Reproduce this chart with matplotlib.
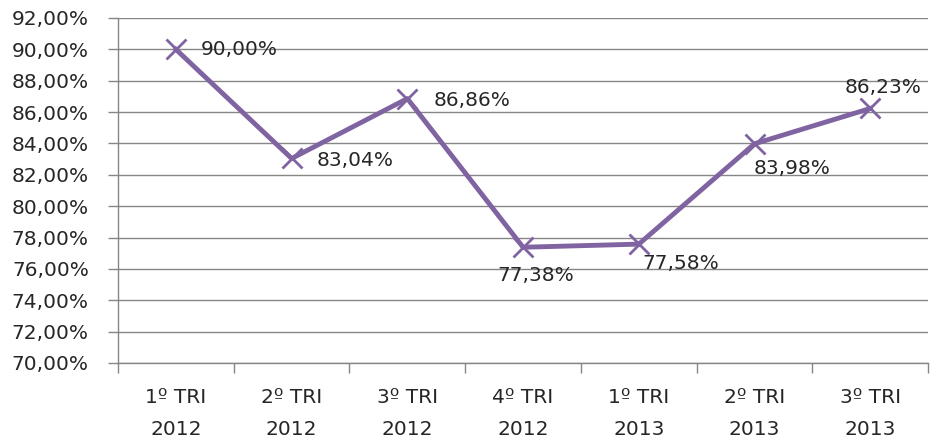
import matplotlib
matplotlib.use("Agg")
import matplotlib.pyplot as plt
from matplotlib.ticker import FuncFormatter, MultipleLocator

categories = ["1º TRI\n2012", "2º TRI\n2012", "3º TRI\n2012", "4º TRI\n2012",
              "1º TRI\n2013", "2º TRI\n2013", "3º TRI\n2013"]
values = [90.00, 83.04, 86.86, 77.38, 77.58, 83.98, 86.23]
labels = ["90,00%", "83,04%", "86,86%", "77,38%", "77,58%", "83,98%", "86,23%"]
# label offsets in pixels (dx, dy)
label_pos = [(25, 0), (25, -2), (26, -2), (-26, -28), (4, -19), (-1, -25), (-26, 21)]

plt.rcParams['font.family'] = ['DejaVu Sans']
fig = plt.figure(figsize=(9.3, 4.45), dpi=100)
ax = fig.add_axes([0.1269, 0.1843, 0.8711, 0.7753])

x = list(range(len(categories)))
color = "#8064A2"
ax.plot(x, values, color=color, linewidth=3.5, marker="x", markersize=14,
        markeredgewidth=2, zorder=3)

for xi, v, lab, (dx, dy) in zip(x, values, labels, label_pos):
    ax.annotate(lab, (xi, v), xytext=(dx, dy), textcoords="offset pixels",
                ha="left", va="center", fontsize=14.5, color="#262626")

ax.set_xlim(-0.5, len(categories) - 0.5)
ax.set_ylim(70, 92)
ax.yaxis.set_major_locator(MultipleLocator(2))
ax.yaxis.set_major_formatter(FuncFormatter(lambda v, p: f"{v:.2f}%".replace(".", ",")))
ax.set_xticks(x)
ax.set_xticklabels(categories)
ax.set_xticks([i - 0.5 for i in range(len(categories) + 1)], minor=True)
ax.tick_params(axis="x", which="major", length=0, pad=18, labelsize=14.5, colors="#262626")
ax.tick_params(axis="x", which="minor", length=7, width=1, color="#868686", direction="out")
ax.tick_params(axis="y", length=7, width=1, color="#868686", labelsize=14.5,
               labelcolor="#262626", pad=14)
ax.grid(axis="y", color="#868686", linewidth=1)
ax.set_axisbelow(True)
for s in ["top", "right"]:
    ax.spines[s].set_visible(False)
for s in ["left", "bottom"]:
    ax.spines[s].set_color("#868686")
    ax.spines[s].set_linewidth(1)
for t in ax.get_xticklabels():
    t.set_linespacing(1.85)

fig.savefig("out.png", dpi=100)
